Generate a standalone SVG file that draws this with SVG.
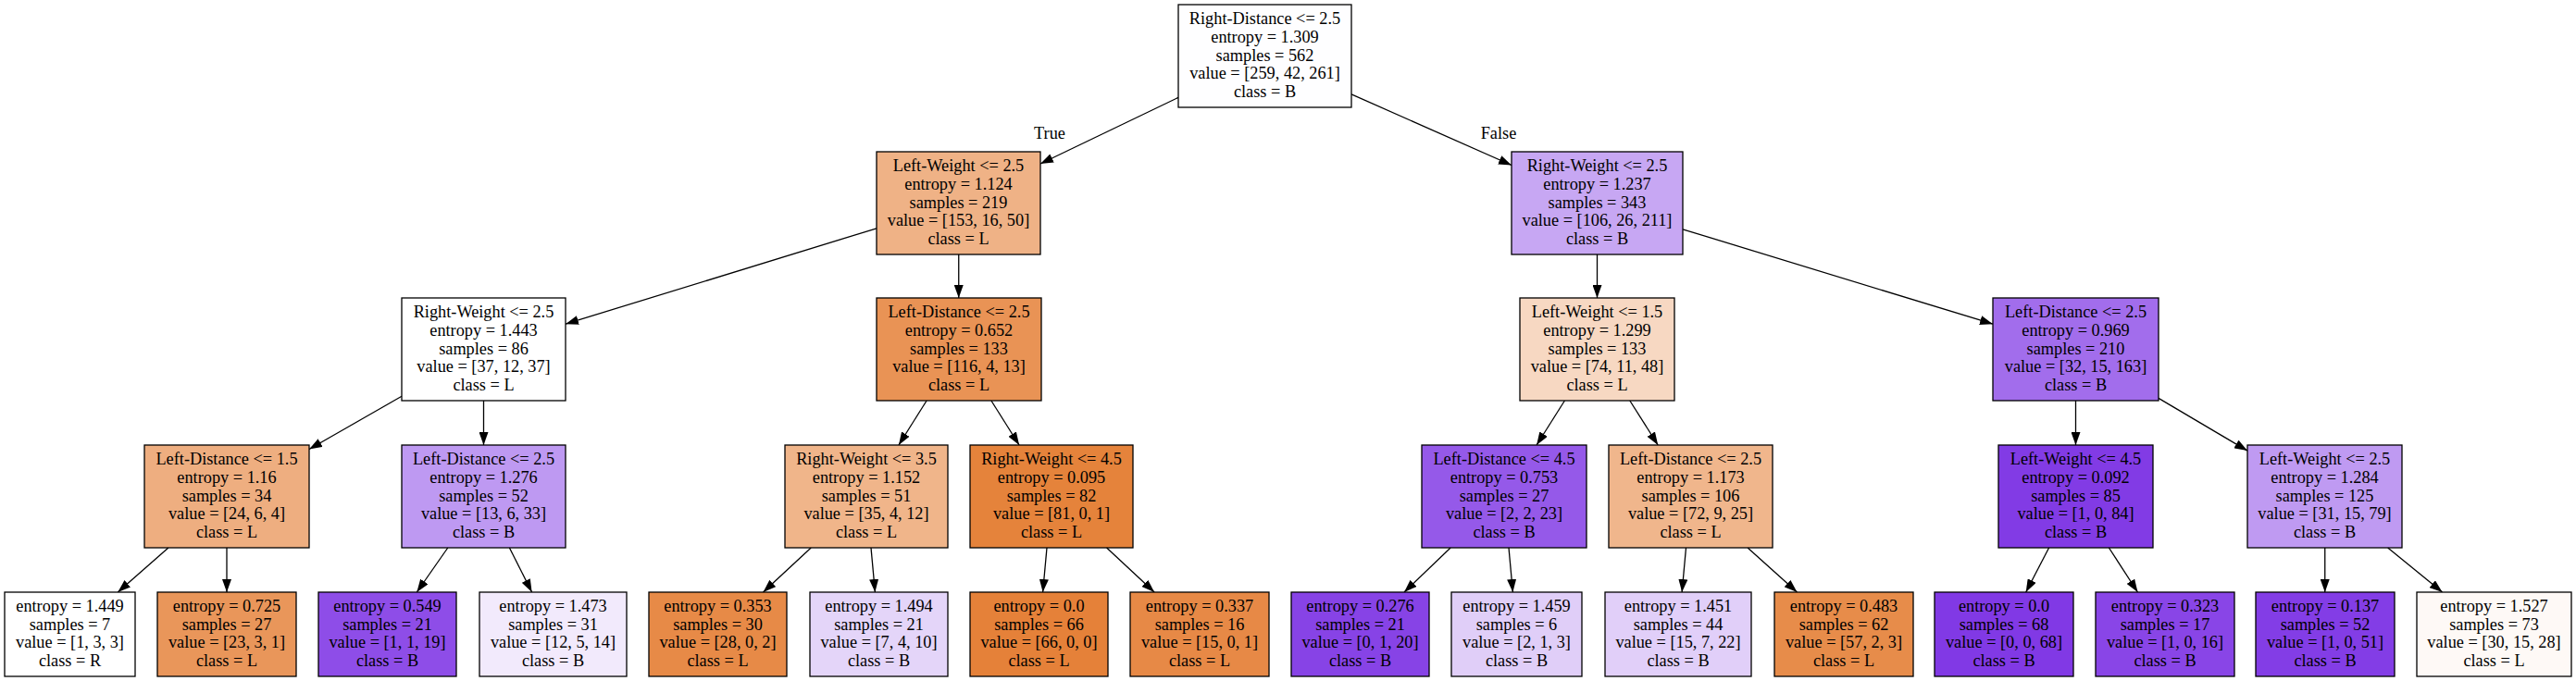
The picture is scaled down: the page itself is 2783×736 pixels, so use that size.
<svg xmlns="http://www.w3.org/2000/svg" width="2783" height="736" viewBox="0 0 2783 736">
<style>
.n rect{stroke:#000;stroke-width:1.3}
text{font-family:"Liberation Serif","Times New Roman",serif;font-size:18.3px;text-anchor:middle;fill:#000}
.e line{stroke:#000;stroke-width:1.3;marker-end:url(#arr)}
</style>
<defs>
<marker id="arr" markerUnits="userSpaceOnUse" markerWidth="14" markerHeight="10" refX="14" refY="5" orient="auto"><path d="M0,0 L14,5 L0,10 z" fill="#000"/></marker>
</defs>
<rect width="2783" height="736" fill="#fff"/>
<g id="connectors" class="e">
<line x1="1273" y1="105.4" x2="1124" y2="177"/>
<line x1="1460" y1="101.9" x2="1633" y2="178.5"/>
<line x1="947" y1="246.8" x2="611" y2="350.2"/>
<line x1="1035.75" y1="275" x2="1035.75" y2="322"/>
<line x1="1725.5" y1="275" x2="1725.5" y2="322"/>
<line x1="1818" y1="247.8" x2="2153" y2="350.2"/>
<line x1="434" y1="428.2" x2="334" y2="485.5"/>
<line x1="522.5" y1="433" x2="522.5" y2="481"/>
<line x1="1001.1" y1="433" x2="970.9" y2="481"/>
<line x1="1070.9" y1="433" x2="1101.1" y2="481"/>
<line x1="1690.4" y1="433" x2="1660.1" y2="481"/>
<line x1="1760.8" y1="433" x2="1791.2" y2="481"/>
<line x1="2242.5" y1="433" x2="2242.5" y2="481"/>
<line x1="2332" y1="430.4" x2="2428" y2="487.1"/>
<line x1="181.9" y1="592" x2="127.3" y2="640"/>
<line x1="245" y1="592" x2="245" y2="640"/>
<line x1="483.8" y1="592" x2="450.3" y2="640"/>
<line x1="550.4" y1="592" x2="574.6" y2="640"/>
<line x1="876.2" y1="592" x2="824.5" y2="640"/>
<line x1="941" y1="592" x2="945.4" y2="640"/>
<line x1="1131" y1="592" x2="1126.6" y2="640"/>
<line x1="1195.6" y1="592" x2="1247.1" y2="640"/>
<line x1="1567.1" y1="592" x2="1517" y2="640"/>
<line x1="1630" y1="592" x2="1634.4" y2="640"/>
<line x1="1821.5" y1="592" x2="1817.1" y2="640"/>
<line x1="1888.1" y1="592" x2="1941.5" y2="640"/>
<line x1="2213.6" y1="592" x2="2188.7" y2="640"/>
<line x1="2278.4" y1="592" x2="2309.5" y2="640"/>
<line x1="2511.75" y1="592" x2="2511.75" y2="640"/>
<line x1="2579.7" y1="592" x2="2638.6" y2="640"/>
<text x="1134" y="150">True</text>
<text x="1619" y="150">False</text>
</g>

<g id="node0" class="n"><rect x="1273" y="5" width="187" height="111" fill="#fefeff"/>
<text x="1366.5" y="25.9">Right-Distance &lt;= 2.5</text><text x="1366.5" y="45.7">entropy = 1.309</text><text x="1366.5" y="65.5">samples = 562</text><text x="1366.5" y="85.3">value = [259, 42, 261]</text><text x="1366.5" y="105.1">class = B</text></g>

<g id="node1" class="n"><rect x="947" y="164" width="177" height="111" fill="#efb286"/>
<text x="1035.5" y="184.9">Left-Weight &lt;= 2.5</text><text x="1035.5" y="204.7">entropy = 1.124</text><text x="1035.5" y="224.5">samples = 219</text><text x="1035.5" y="244.3">value = [153, 16, 50]</text><text x="1035.5" y="264.1">class = L</text></g>

<g id="node2" class="n"><rect x="1633" y="164" width="185" height="111" fill="#c7a7f3"/>
<text x="1725.5" y="184.9">Right-Weight &lt;= 2.5</text><text x="1725.5" y="204.7">entropy = 1.237</text><text x="1725.5" y="224.5">samples = 343</text><text x="1725.5" y="244.3">value = [106, 26, 211]</text><text x="1725.5" y="264.1">class = B</text></g>

<g id="node3" class="n"><rect x="434" y="322" width="177" height="111" fill="#ffffff"/>
<text x="522.5" y="342.9">Right-Weight &lt;= 2.5</text><text x="522.5" y="362.7">entropy = 1.443</text><text x="522.5" y="382.5">samples = 86</text><text x="522.5" y="402.3">value = [37, 12, 37]</text><text x="522.5" y="422.1">class = L</text></g>

<g id="node4" class="n"><rect x="947" y="322" width="178" height="111" fill="#e99355"/>
<text x="1036" y="342.9">Left-Distance &lt;= 2.5</text><text x="1036" y="362.7">entropy = 0.652</text><text x="1036" y="382.5">samples = 133</text><text x="1036" y="402.3">value = [116, 4, 13]</text><text x="1036" y="422.1">class = L</text></g>

<g id="node5" class="n"><rect x="1642" y="322" width="167" height="111" fill="#f7d8c2"/>
<text x="1725.5" y="342.9">Left-Weight &lt;= 1.5</text><text x="1725.5" y="362.7">entropy = 1.299</text><text x="1725.5" y="382.5">samples = 133</text><text x="1725.5" y="402.3">value = [74, 11, 48]</text><text x="1725.5" y="422.1">class = L</text></g>

<g id="node6" class="n"><rect x="2153" y="322" width="179" height="111" fill="#a26dec"/>
<text x="2242.5" y="342.9">Left-Distance &lt;= 2.5</text><text x="2242.5" y="362.7">entropy = 0.969</text><text x="2242.5" y="382.5">samples = 210</text><text x="2242.5" y="402.3">value = [32, 15, 163]</text><text x="2242.5" y="422.1">class = B</text></g>

<g id="node7" class="n"><rect x="156" y="481" width="178" height="111" fill="#eeae80"/>
<text x="245" y="501.9">Left-Distance &lt;= 1.5</text><text x="245" y="521.7">entropy = 1.16</text><text x="245" y="541.5">samples = 34</text><text x="245" y="561.3">value = [24, 6, 4]</text><text x="245" y="581.1">class = L</text></g>

<g id="node8" class="n"><rect x="434" y="481" width="177" height="111" fill="#be99f2"/>
<text x="522.5" y="501.9">Left-Distance &lt;= 2.5</text><text x="522.5" y="521.7">entropy = 1.276</text><text x="522.5" y="541.5">samples = 52</text><text x="522.5" y="561.3">value = [13, 6, 33]</text><text x="522.5" y="581.1">class = B</text></g>

<g id="node9" class="n"><rect x="848" y="481" width="176" height="111" fill="#f0b58a"/>
<text x="936" y="501.9">Right-Weight &lt;= 3.5</text><text x="936" y="521.7">entropy = 1.152</text><text x="936" y="541.5">samples = 51</text><text x="936" y="561.3">value = [35, 4, 12]</text><text x="936" y="581.1">class = L</text></g>

<g id="node10" class="n"><rect x="1048" y="481" width="176" height="111" fill="#e5833b"/>
<text x="1136" y="501.9">Right-Weight &lt;= 4.5</text><text x="1136" y="521.7">entropy = 0.095</text><text x="1136" y="541.5">samples = 82</text><text x="1136" y="561.3">value = [81, 0, 1]</text><text x="1136" y="581.1">class = L</text></g>

<g id="node11" class="n"><rect x="1536" y="481" width="178" height="111" fill="#9559e9"/>
<text x="1625" y="501.9">Left-Distance &lt;= 4.5</text><text x="1625" y="521.7">entropy = 0.753</text><text x="1625" y="541.5">samples = 27</text><text x="1625" y="561.3">value = [2, 2, 23]</text><text x="1625" y="581.1">class = B</text></g>

<g id="node12" class="n"><rect x="1738" y="481" width="177" height="111" fill="#f0b68c"/>
<text x="1826.5" y="501.9">Left-Distance &lt;= 2.5</text><text x="1826.5" y="521.7">entropy = 1.173</text><text x="1826.5" y="541.5">samples = 106</text><text x="1826.5" y="561.3">value = [72, 9, 25]</text><text x="1826.5" y="581.1">class = L</text></g>

<g id="node13" class="n"><rect x="2159" y="481" width="167" height="111" fill="#823be5"/>
<text x="2242.5" y="501.9">Left-Weight &lt;= 4.5</text><text x="2242.5" y="521.7">entropy = 0.092</text><text x="2242.5" y="541.5">samples = 85</text><text x="2242.5" y="561.3">value = [1, 0, 84]</text><text x="2242.5" y="581.1">class = B</text></g>

<g id="node14" class="n"><rect x="2428" y="481" width="167" height="111" fill="#bf9af2"/>
<text x="2511.5" y="501.9">Left-Weight &lt;= 2.5</text><text x="2511.5" y="521.7">entropy = 1.284</text><text x="2511.5" y="541.5">samples = 125</text><text x="2511.5" y="561.3">value = [31, 15, 79]</text><text x="2511.5" y="581.1">class = B</text></g>

<g id="leaf1" class="n"><rect x="5" y="640" width="141" height="91" fill="#ffffff"/>
<text x="75.5" y="660.8">entropy = 1.449</text><text x="75.5" y="680.6">samples = 7</text><text x="75.5" y="700.4">value = [1, 3, 3]</text><text x="75.5" y="720.2">class = R</text></g>

<g id="leaf2" class="n"><rect x="170" y="640" width="150" height="91" fill="#e9965a"/>
<text x="245" y="660.8">entropy = 0.725</text><text x="245" y="680.6">samples = 27</text><text x="245" y="700.4">value = [23, 3, 1]</text><text x="245" y="720.2">class = L</text></g>

<g id="leaf3" class="n"><rect x="344" y="640" width="149" height="91" fill="#8e4de8"/>
<text x="418.5" y="660.8">entropy = 0.549</text><text x="418.5" y="680.6">samples = 21</text><text x="418.5" y="700.4">value = [1, 1, 19]</text><text x="418.5" y="720.2">class = B</text></g>

<g id="leaf4" class="n"><rect x="518" y="640" width="159" height="91" fill="#f2eafc"/>
<text x="597.5" y="660.8">entropy = 1.473</text><text x="597.5" y="680.6">samples = 31</text><text x="597.5" y="700.4">value = [12, 5, 14]</text><text x="597.5" y="720.2">class = B</text></g>

<g id="leaf5" class="n"><rect x="701" y="640" width="149" height="91" fill="#e78a47"/>
<text x="775.5" y="660.8">entropy = 0.353</text><text x="775.5" y="680.6">samples = 30</text><text x="775.5" y="700.4">value = [28, 0, 2]</text><text x="775.5" y="720.2">class = L</text></g>

<g id="leaf6" class="n"><rect x="875" y="640" width="149" height="91" fill="#e4d5f9"/>
<text x="949.5" y="660.8">entropy = 1.494</text><text x="949.5" y="680.6">samples = 21</text><text x="949.5" y="700.4">value = [7, 4, 10]</text><text x="949.5" y="720.2">class = B</text></g>

<g id="leaf7" class="n"><rect x="1048" y="640" width="149" height="91" fill="#e58139"/>
<text x="1122.5" y="660.8">entropy = 0.0</text><text x="1122.5" y="680.6">samples = 66</text><text x="1122.5" y="700.4">value = [66, 0, 0]</text><text x="1122.5" y="720.2">class = L</text></g>

<g id="leaf8" class="n"><rect x="1221" y="640" width="150" height="91" fill="#e78946"/>
<text x="1296" y="660.8">entropy = 0.337</text><text x="1296" y="680.6">samples = 16</text><text x="1296" y="700.4">value = [15, 0, 1]</text><text x="1296" y="720.2">class = L</text></g>

<g id="leaf9" class="n"><rect x="1395" y="640" width="149" height="91" fill="#8743e6"/>
<text x="1469.5" y="660.8">entropy = 0.276</text><text x="1469.5" y="680.6">samples = 21</text><text x="1469.5" y="700.4">value = [0, 1, 20]</text><text x="1469.5" y="720.2">class = B</text></g>

<g id="leaf10" class="n"><rect x="1568" y="640" width="141" height="91" fill="#e0cef8"/>
<text x="1638.5" y="660.8">entropy = 1.459</text><text x="1638.5" y="680.6">samples = 6</text><text x="1638.5" y="700.4">value = [2, 1, 3]</text><text x="1638.5" y="720.2">class = B</text></g>

<g id="leaf11" class="n"><rect x="1734" y="640" width="158" height="91" fill="#e1cff9"/>
<text x="1813" y="660.8">entropy = 1.451</text><text x="1813" y="680.6">samples = 44</text><text x="1813" y="700.4">value = [15, 7, 22]</text><text x="1813" y="720.2">class = B</text></g>

<g id="leaf12" class="n"><rect x="1917" y="640" width="150" height="91" fill="#e78c4a"/>
<text x="1992" y="660.8">entropy = 0.483</text><text x="1992" y="680.6">samples = 62</text><text x="1992" y="700.4">value = [57, 2, 3]</text><text x="1992" y="720.2">class = L</text></g>

<g id="leaf13" class="n"><rect x="2090" y="640" width="150" height="91" fill="#8139e5"/>
<text x="2165" y="660.8">entropy = 0.0</text><text x="2165" y="680.6">samples = 68</text><text x="2165" y="700.4">value = [0, 0, 68]</text><text x="2165" y="720.2">class = B</text></g>

<g id="leaf14" class="n"><rect x="2264" y="640" width="150" height="91" fill="#8945e7"/>
<text x="2339" y="660.8">entropy = 0.323</text><text x="2339" y="680.6">samples = 17</text><text x="2339" y="700.4">value = [1, 0, 16]</text><text x="2339" y="720.2">class = B</text></g>

<g id="leaf15" class="n"><rect x="2437" y="640" width="150" height="91" fill="#833de6"/>
<text x="2512" y="660.8">entropy = 0.137</text><text x="2512" y="680.6">samples = 52</text><text x="2512" y="700.4">value = [1, 0, 51]</text><text x="2512" y="720.2">class = B</text></g>

<g id="leaf16" class="n"><rect x="2611" y="640" width="167" height="91" fill="#fef9f6"/>
<text x="2694.5" y="660.8">entropy = 1.527</text><text x="2694.5" y="680.6">samples = 73</text><text x="2694.5" y="700.4">value = [30, 15, 28]</text><text x="2694.5" y="720.2">class = L</text></g>
</svg>
